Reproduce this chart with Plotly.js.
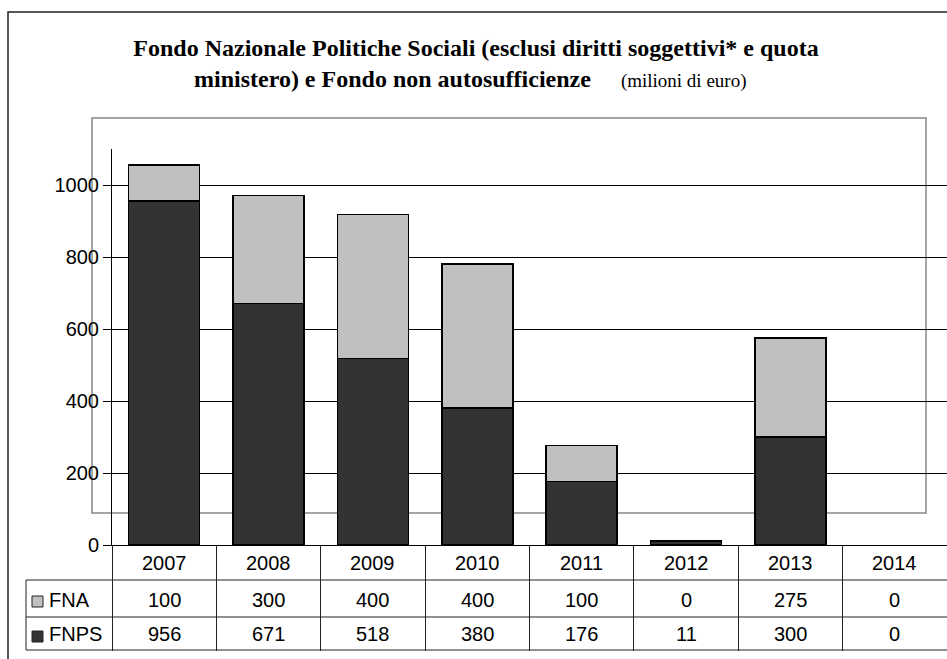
<!DOCTYPE html>
<html>
<head>
<meta charset="utf-8">
<script src="https://cdn.plot.ly/plotly-3.0.1.min.js"></script>
<style>html,body{margin:0;padding:0;background:#fff;}#chart{width:947px;height:659px;}</style>
</head>
<body>
<div id="chart"></div>
<script>
// ---- data ----
var years = ['2007', '2008', '2009', '2010', '2011', '2012', '2013', '2014'];
var fna = [100, 300, 400, 400, 100, 0, 275, 0];
var fnps = [956, 671, 518, 380, 176, 11, 300, 0];
var seriesNames = ['FNA', 'FNPS'];
var yTicks = [0, 200, 400, 600, 800, 1000];

var W = 947, H = 659;
var L = 112, R = 0, T = 149, B = 114;
var plotW = W - L - R, plotH = H - T - B;
function px(x) { return (x - L) / plotW; }
function py(y) { return (H - B - y) / plotH; }

var colFNA = '#c0c0c0', colFNPS = '#333333';
var sans = 'Liberation Sans, Arial, sans-serif';
var serif = 'Liberation Serif, Times New Roman, serif';
var tfont = {family: sans, size: 20, color: '#000'};
function lineWidths(vals) { return vals.map(function (v) { return v > 0 ? 1.5 : 0; }); }

var traces = [
  {type: 'bar', name: 'FNPS', x: years, y: fnps,
   marker: {color: colFNPS, line: {color: '#000', width: lineWidths(fnps)}}, hoverinfo: 'x+y+name'},
  {type: 'bar', name: 'FNA', x: years, y: fna,
   marker: {color: colFNA, line: {color: '#000', width: lineWidths(fna)}}, hoverinfo: 'x+y+name'}
];

var shapes = [
  // outer frame
  {type: 'rect', xref: 'paper', yref: 'paper', x0: px(8), x1: px(960), y0: py(680), y1: py(12),
   line: {color: '#222', width: 1.5}, fillcolor: 'rgba(0,0,0,0)', layer: 'below'},
  // grey plot-area box
  {type: 'rect', xref: 'paper', yref: 'paper', x0: px(92), x1: px(926), y0: py(513), y1: py(118),
   line: {color: '#888', width: 1.5}, fillcolor: 'rgba(0,0,0,0)', layer: 'below'},
  // table horizontal lines
  {type: 'line', xref: 'paper', yref: 'paper', x0: px(26), x1: 1, y0: py(580), y1: py(580), line: {color: '#222', width: 1}},
  {type: 'line', xref: 'paper', yref: 'paper', x0: px(26), x1: 1, y0: py(617), y1: py(617), line: {color: '#222', width: 1}},
  {type: 'line', xref: 'paper', yref: 'paper', x0: px(26), x1: 1, y0: py(650), y1: py(650), line: {color: '#222', width: 1}},
  // table left edge
  {type: 'line', xref: 'paper', yref: 'paper', x0: px(26), x1: px(26), y0: py(580), y1: py(650), line: {color: '#222', width: 1}},
  // legend keys
  {type: 'rect', xref: 'paper', yref: 'paper', x0: px(32), x1: px(43), y0: py(607), y1: py(596),
   fillcolor: colFNA, line: {color: '#222', width: 1}},
  {type: 'rect', xref: 'paper', yref: 'paper', x0: px(32), x1: px(43), y0: py(642), y1: py(631),
   fillcolor: colFNPS, line: {color: '#222', width: 1}}
];

var nb = '\u00a0\u00a0\u00a0\u00a0\u00a0';
var annotations = [];
// second title line
annotations.push({xref: 'paper', yref: 'paper', x: px(470), y: py(79), xanchor: 'center', yanchor: 'middle',
  text: '<b>ministero) e Fondo non autosufficienze</b>' + nb + '<span style="font-size:19px">(milioni di euro)</span>',
  showarrow: false, font: {family: serif, size: 24, color: '#000'}});
// table text
for (var i = 0; i < years.length; i++) {
  annotations.push({xref: 'x', yref: 'paper', x: i, y: py(563), text: years[i], showarrow: false,
    xanchor: 'center', yanchor: 'middle', font: tfont});
  annotations.push({xref: 'x', yref: 'paper', x: i, y: py(600), text: String(fna[i]), showarrow: false,
    xanchor: 'center', yanchor: 'middle', font: tfont});
  annotations.push({xref: 'x', yref: 'paper', x: i, y: py(634), text: String(fnps[i]), showarrow: false,
    xanchor: 'center', yanchor: 'middle', font: tfont});
}
annotations.push({xref: 'paper', yref: 'paper', x: px(47), y: py(600), text: seriesNames[0], showarrow: false,
  xanchor: 'left', yanchor: 'middle', font: tfont});
annotations.push({xref: 'paper', yref: 'paper', x: px(47), y: py(634), text: seriesNames[1], showarrow: false,
  xanchor: 'left', yanchor: 'middle', font: tfont});

var layout = {
  width: W, height: H,
  margin: {l: L, r: R, t: T, b: B, pad: 0},
  paper_bgcolor: '#fff', plot_bgcolor: 'rgba(0,0,0,0)',
  barmode: 'stack', bargap: 0.32,
  showlegend: false,
  title: {text: '<b>Fondo Nazionale Politiche Sociali (esclusi diritti soggettivi* e quota</b>',
    xref: 'container', yref: 'container', x: 476 / W, xanchor: 'center', y: 1 - 48 / H, yanchor: 'middle',
    font: {family: serif, size: 24, color: '#000'}},
  xaxis: {type: 'category', range: [-0.5, 7.5], tickson: 'boundaries', ticks: 'outside', ticklen: 105,
    tickcolor: '#222', tickwidth: 1, showticklabels: false, showline: true, linecolor: '#000', linewidth: 1,
    showgrid: false, zeroline: false, fixedrange: true},
  yaxis: {range: [0, 1100], tickvals: yTicks, ticks: 'outside', ticklen: 8, tickcolor: '#000', tickwidth: 1,
    showline: true, linecolor: '#000', linewidth: 1, showgrid: true, gridcolor: '#000', gridwidth: 1,
    zeroline: false, tickfont: tfont, fixedrange: true},
  shapes: shapes,
  annotations: annotations
};

Plotly.newPlot('chart', traces, layout, {displayModeBar: false, staticPlot: true});
</script>
</body>
</html>
